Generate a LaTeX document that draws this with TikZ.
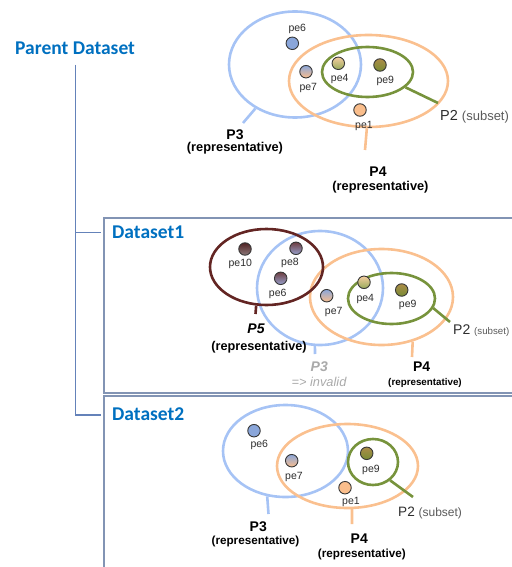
\documentclass[tikz,border=0pt]{standalone}
\usepackage{fontspec}
\setmainfont{Liberation Sans}
\newfontfamily\headfont{Carlito}
\usetikzlibrary{shapes.geometric}

\definecolor{setblue}{RGB}{166,195,245}
\definecolor{setorange}{RGB}{250,192,143}
\definecolor{setgreen}{RGB}{119,147,60}
\definecolor{setbrown}{RGB}{99,37,35}
\definecolor{headblue}{RGB}{0,112,192}
\definecolor{treeline}{RGB}{100,130,185}
\definecolor{boxline}{RGB}{130,148,180}
\definecolor{dotline}{RGB}{55,55,55}
\definecolor{dotblue}{RGB}{138,166,218}
\definecolor{dotorange}{RGB}{250,190,140}
\definecolor{dotpeach}{RGB}{245,205,160}
\definecolor{dotgreen}{RGB}{150,170,90}
\definecolor{dottan}{RGB}{172,140,72}
\definecolor{dotolive}{RGB}{120,140,52}
\definecolor{dotdark}{RGB}{80,35,35}
\definecolor{dotgraybrown}{RGB}{140,120,122}
\definecolor{dotplum}{RGB}{110,62,64}
\definecolor{dotsteel}{RGB}{150,160,205}
\definecolor{labelgray}{RGB}{45,45,45}
\definecolor{subgray}{RGB}{90,90,90}
\definecolor{invalidgray}{RGB}{170,170,170}

\tikzset{
  setring/.style={ellipse, draw=#1, line width=2.6pt, inner sep=0pt},
  settick/.style={draw=#1, line width=2.6pt},
  dot/.style 2 args={circle, draw=dotline, line width=0.9pt, minimum size=12.5pt,
    inner sep=0pt, top color=#1, bottom color=#2},
  pelabel/.style={anchor=base, inner sep=0pt, text=labelgray,
    font=\fontsize{10.5}{12}\selectfont},
  pname/.style={anchor=base, inner sep=0pt, font=\bfseries\fontsize{#1}{#1}\selectfont},
  prole/.style={anchor=base, inner sep=0pt, font=\bfseries\fontsize{#1}{#1}\selectfont},
  heading/.style={anchor=base west, inner sep=0pt, text=headblue,
    font=\headfont\bfseries\fontsize{19.5}{20}\selectfont},
  dsbox/.style={draw=boxline, line width=1.5pt, inner sep=0pt},
  tree/.style={draw=treeline, line width=1.5pt},
}

\begin{document}
\begin{tikzpicture}[x=1pt, y=-1pt]
\useasboundingbox (0,0) rectangle (511,567);

% ---- dataset frames and hierarchy (frames run past the right and bottom edges) ----
\node[dsbox, minimum width=416pt, minimum height=175pt] (box1) at (312,305.5) {};
\node[dsbox, minimum width=416pt, minimum height=186pt] (box2) at (312,489) {};

\node[heading] (par) at (15,54.3) {Parent Dataset};
\node[heading] (ds1) at (112,238.3) {Dataset1};
\node[heading] (ds2) at (112,420) {Dataset2};

\coordinate (trunk) at (75.5,65);
\coordinate (br1) at (101,232.5);
\coordinate (br2) at (101,415);
\draw[tree] (trunk) |- (br1);
\draw[tree] (trunk) |- (br2);

% ---- parent dataset ----
\node[setring=setblue, minimum width=132pt, minimum height=106pt] (pP3) at (295,64.5) {};
\node[setring=setorange, minimum width=159pt, minimum height=92pt] (pP4) at (368.5,81) {};
\node[setring=setgreen, minimum width=91pt, minimum height=50pt] (pP2) at (367.5,72) {};

\coordinate (pP3end) at (243,123);
\coordinate (pP4end) at (365,150);
\coordinate (pP2end) at (438,103);
\draw[settick=setblue] (pP3.228) -- (pP3end);
\draw[settick=setorange] (pP4.268) -- (pP4end);
\draw[settick=setgreen] (pP2.338) -- (pP2end);

\node[dot={dotblue}{dotblue}] (p6) at (292.3,43.3) {};
\node[dot={dotblue}{dotorange}] (p7) at (306,71.7) {};
\node[dot={dotpeach}{dotgreen}] (p4) at (338.3,63.3) {};
\node[dot={dottan}{dotolive}] (p9) at (380,65) {};
\node[dot={dotorange}{dotorange}] (p1) at (360,110) {};

\node[pelabel] (p6l) at (297.3,31.6) {pe6};
\node[pelabel] (p7l) at (308.3,90.3) {pe7};
\node[pelabel] (p4l) at (339.7,81.6) {pe4};
\node[pelabel] (p9l) at (385.3,83.6) {pe9};
\node[pelabel] (p1l) at (364,128.3) {pe1};

\node[pname=14] (pP3n) at (235,139.3) {P3};
\node[prole=12.8] (pP3r) at (235,151.3) {(representative)};
\node[pname=14] (pP4n) at (378,176.7) {P4};
\node[prole=12.8] (pP4r) at (380.5,190.6) {(representative)};
\node[anchor=base west, inner sep=0pt, text=labelgray, font=\fontsize{14.5}{15}\selectfont]
  (pP2n) at (440,120.7) {P2 {\color{subgray}\fontsize{13}{14}\selectfont(subset)}};

% ---- dataset 1 ----
\node[setring=setblue, minimum width=126pt, minimum height=114pt] (aP3) at (320,288) {};
\node[setring=setorange, minimum width=143pt, minimum height=96pt] (aP4) at (381.5,297) {};
\node[setring=setbrown, minimum width=113pt, minimum height=76pt] (aP5) at (266.5,267) {};
\node[setring=setgreen, minimum width=87pt, minimum height=51pt] (aP2) at (391.5,298.5) {};

\coordinate (aP5end) at (255.5,314);
\coordinate (aP3end) at (315,354);
\coordinate (aP4end) at (412,357);
\coordinate (aP2end) at (450,322);
\draw[settick=setbrown] (aP5.255) -- (aP5end);
\draw[settick=setblue] (aP3.265) -- (aP3end);
\draw[settick=setorange] (aP4.305) -- (aP4end);
\draw[settick=setgreen] (aP2.347) -- (aP2end);

\node[dot={dotdark}{dotgraybrown}] (a10) at (245,249) {};
\node[dot={dotplum}{dotsteel}] (a8) at (296,248.3) {};
\node[dot={dotplum}{dotsteel}] (a6) at (280.7,278.3) {};
\node[dot={dotblue}{dotorange}] (a7) at (326.7,295.7) {};
\node[dot={dotpeach}{dotgreen}] (a4) at (364,282.3) {};
\node[dot={dottan}{dotolive}] (a9) at (401.7,290) {};

\node[pelabel] (a10l) at (240.3,266) {pe10};
\node[pelabel] (a8l) at (290,265.3) {pe8};
\node[pelabel] (a6l) at (277.7,296) {pe6};
\node[pelabel] (a7l) at (333.7,314.3) {pe7};
\node[pelabel] (a4l) at (365.3,301) {pe4};
\node[pelabel] (a9l) at (407.7,307.6) {pe9};

\node[pname=14, font=\bfseries\itshape\fontsize{14}{14}\selectfont] (aP5n) at (256,333.3) {P5};
\node[prole=12.7] (aP5r) at (259,350.6) {(representative)};
\node[pname=14, text=invalidgray, font=\bfseries\itshape\fontsize{14}{14}\selectfont] (aP3n) at (319.3,371.7) {P3};
\node[anchor=base, inner sep=0pt, text=invalidgray, font=\itshape\fontsize{12.8}{13}\selectfont] (aP3r) at (319,386) {=> invalid};
\node[pname=14] (aP4n) at (421.7,371.7) {P4};
\node[prole=9.8] (aP4r) at (425,385.3) {(representative)};
\node[anchor=base west, inner sep=0pt, text=labelgray, font=\fontsize{14}{15}\selectfont]
  (aP2n) at (453,334) {P2 {\color{subgray}\fontsize{9.7}{10}\selectfont(subset)}};

% ---- dataset 2 ----
\node[setring=setblue, minimum width=125pt, minimum height=92pt] (bP3) at (285.5,451) {};
\node[setring=setorange, minimum width=141pt, minimum height=84pt] (bP4) at (347.5,466) {};
\node[setring=setgreen, minimum width=50pt, minimum height=46pt] (bP2) at (373,462) {};

\coordinate (bP3end) at (268.5,514);
\coordinate (bP4end) at (352,524);
\coordinate (bP2end) at (413,497);
\draw[settick=setblue] (bP3.248) -- (bP3end);
\draw[settick=setorange] (bP4.276) -- (bP4end);
\draw[settick=setgreen] (bP2.313) -- (bP2end);

\node[dot={dotblue}{dotblue}] (b6) at (254,430.7) {};
\node[dot={dotblue}{dotorange}] (b7) at (291.7,460.7) {};
\node[dot={dottan}{dotolive}] (b9) at (366.7,453.3) {};
\node[dot={dotorange}{dotorange}] (b1) at (345,487.7) {};

\node[pelabel] (b6l) at (259.3,447.6) {pe6};
\node[pelabel] (b7l) at (294,479.3) {pe7};
\node[pelabel] (b9l) at (371,472.6) {pe9};
\node[pelabel] (b1l) at (351,504.3) {pe1};

\node[pname=14] (bP3n) at (258.3,531.7) {P3};
\node[prole=11.7] (bP3r) at (255.5,544.2) {(representative)};
\node[pname=14] (bP4n) at (359.3,543.3) {P4};
\node[prole=11.7] (bP4r) at (361.8,557) {(representative)};
\node[anchor=base west, inner sep=0pt, text=labelgray, font=\fontsize{13.6}{15}\selectfont]
  (bP2n) at (398,516) {P2 {\color{subgray}\fontsize{12}{13}\selectfont(subset)}};
\end{tikzpicture}
\end{document}
